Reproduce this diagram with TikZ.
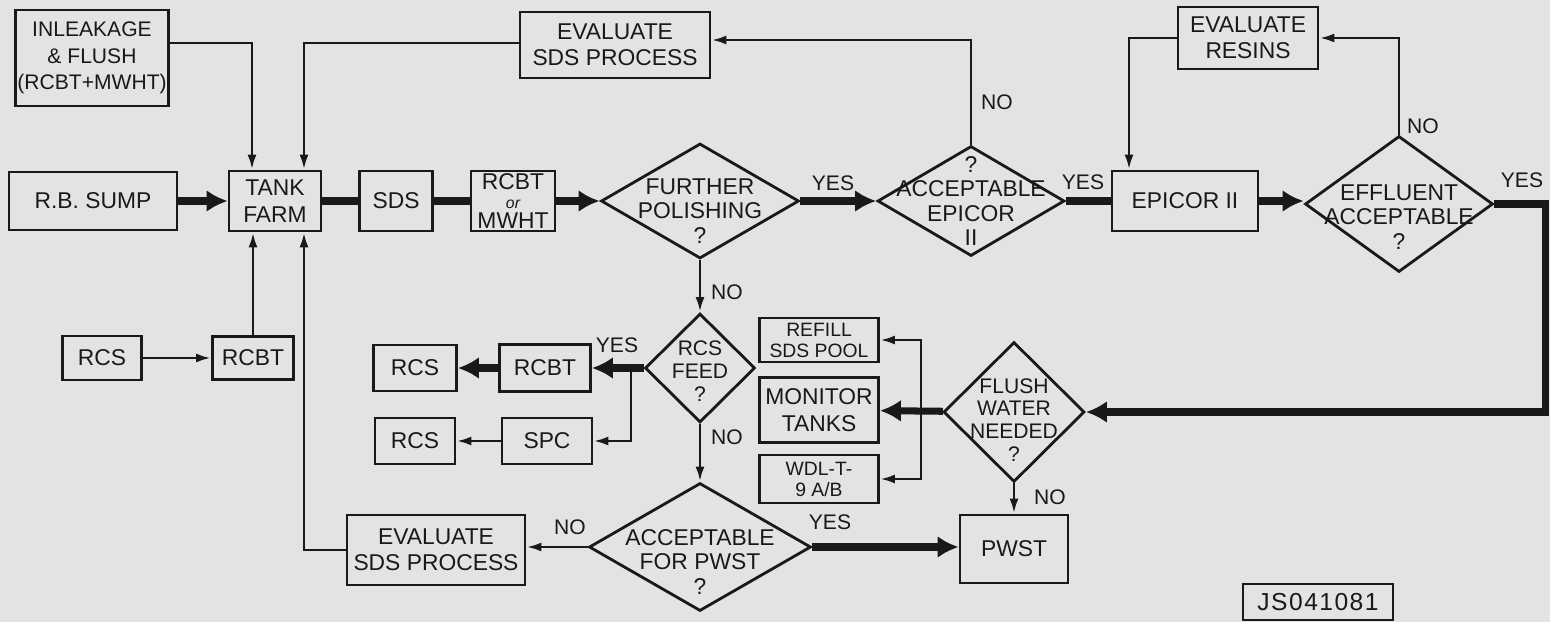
\documentclass[tikz,border=0pt]{standalone}
\usepackage{fontspec}
\setmainfont{Liberation Sans}
\usepackage{tikz}
\usetikzlibrary{shapes.geometric,arrows.meta,calc,positioning}
\tikzset{
        block/.style = {draw, rectangle, align=center, inner sep=1pt,
            line width=1.6pt,
            font=\fontsize{13}{15}\selectfont},
        smallblock/.style = {block, font=\fontsize{11}{12}\selectfont},
        decision/.style = {draw, diamond, inner sep=0pt, line width=1.6pt},
        dtext/.style = {align=center, inner sep=0pt, font=\fontsize{13}{14}\selectfont},
        lbl/.style = {inner sep=1pt, font=\fontsize{12}{14}\selectfont},
        flow/.style = {draw, line width=4pt, -{Latex[length=0.42cm,width=0.44cm]}},
        pipe/.style = {draw, line width=4pt},
        arrow/.style = {draw, line width=1.6pt, -{Latex[length=0.3cm,width=0.18cm]}},
    }

\begin{document}
\begin{tikzpicture}[x=0.02cm, y=-0.02cm, color=black!90]
		\useasboundingbox[fill=black!11] (0,0) rectangle (1550,622);
		\node[block, minimum width=3.06cm, minimum height=1.92cm, font=\fontsize{12}{15}\selectfont] (inleak) at (92,58) {INLEAKAGE\\\& FLUSH\\(RCBT+MWHT)};
		\node[block, minimum width=3.36cm, minimum height=1.16cm] (sump) at (93,201) {R.B. SUMP};
		\node[block, minimum width=1.84cm, minimum height=1.2cm] (tank) at (275,201) {TANK\\FARM};
		\node[block, minimum width=1.46cm, minimum height=1.2cm] (sds) at (396,201) {SDS};
		\node[block, minimum width=1.68cm, minimum height=1.2cm] (rcbtmwht) at (513,201) {RCBT\\[-4pt]{\fontsize{9}{9}\selectfont\itshape or}\\[-4pt]MWHT};
		\node[block, minimum width=3.8cm, minimum height=1.32cm] (evalsds) at (615,45) {EVALUATE\\SDS PROCESS};
		\node[decision, minimum width=3.96cm, minimum height=2.3cm,
			label={[dtext,yshift=-0.2cm]center:FURTHER\\POLISHING\\?}] (further) at (700,201) {};
		\node[decision, minimum width=3.74cm, minimum height=2.2cm,
			label={[dtext]center:?\\ACCEPTABLE\\EPICOR\\II}] (accepicor) at (971,201) {};
		\node[block, minimum width=2.92cm, minimum height=1.2cm] (epicor) at (1185,201) {EPICOR II};
		\node[decision, minimum width=3.76cm, minimum height=2.72cm,
			label={[dtext,yshift=-0.26cm]center:EFFLUENT\\ACCEPTABLE\\?}] (effluent) at (1399,204) {};
		\node[block, minimum width=2.8cm, minimum height=1.24cm] (evalresin) at (1248,38) {EVALUATE\\RESINS};
		\node[block, minimum width=1.58cm, minimum height=0.88cm] (rcsleft) at (102,358) {RCS};
		\node[block, minimum width=1.62cm, minimum height=0.86cm] (rcbtleft) at (253,358) {RCBT};
		\node[decision, minimum width=2.2cm, minimum height=2.18cm,
			label={[dtext,yshift=-0.06cm,font=\fontsize{12}{13}\selectfont]center:RCS\\FEED\\?}] (rcsfeed) at (700,368) {};
		\node[block, minimum width=1.82cm, minimum height=0.94cm] (rcbtmid) at (545,368) {RCBT};
		\node[block, minimum width=1.66cm, minimum height=0.92cm] (rcsupper) at (415,368) {RCS};
		\node[block, minimum width=1.8cm, minimum height=0.92cm] (spc) at (547,441) {SPC};
		\node[block, minimum width=1.6cm, minimum height=0.92cm] (rcslower) at (415,441) {RCS};
		\node[decision, minimum width=4.44cm, minimum height=2.56cm,
			label={[dtext,yshift=-0.3cm]center:ACCEPTABLE\\FOR PWST\\?}] (accpwst) at (700,547) {};
		\node[block, minimum width=3.56cm, minimum height=1.4cm] (evalsdslow) at (436,550) {EVALUATE\\SDS PROCESS};
		\node[smallblock, minimum width=2.38cm, minimum height=0.88cm] (refill) at (819,340) {REFILL\\SDS POOL};
		\node[block, minimum width=2.38cm, minimum height=1.3cm] (monitor) at (819,410) {MONITOR\\TANKS};
		\node[smallblock, minimum width=2.38cm, minimum height=0.96cm] (wdl) at (819,479) {WDL-T-\\9 A/B};
		\node[decision, minimum width=2.82cm, minimum height=2.8cm,
			label={[dtext,yshift=-0.16cm,font=\fontsize{12}{13}\selectfont]center:FLUSH\\WATER\\NEEDED\\?}] (flush) at (1014,412) {};
		\node[block, minimum width=2.16cm, minimum height=1.36cm] (pwst) at (1014,549) {PWST};
		\node[block, minimum width=3cm, minimum height=0.72cm, font=\fontsize{14}{16}\selectfont\addfontfeatures{LetterSpace=6}] (jsno) at (1318,602) {JS041081};
		\node[lbl] (yesa) at (833,183) {YES};
		\node[lbl] (yesb) at (1083,182) {YES};
		\node[lbl] (noa) at (997,102) {NO};
		\node[lbl] (nob) at (1423,126) {NO};
		\node[lbl] (yesc) at (1522,180) {YES};
		\node[lbl] (noc) at (727,292) {NO};
		\node[lbl] (yesd) at (617,345) {YES};
		\node[lbl] (nod) at (727,437) {NO};
		\node[lbl] (noe) at (570,527) {NO};
		\node[lbl] (yese) at (830,522) {YES};
		\node[lbl] (nof) at (1050,497) {NO};
		\coordinate (rturn) at (1545,300);
		\coordinate (flushsplit) at (921,412);
		\coordinate (feedsplit) at (631,368);
		\path[flow] (sump) -- (tank);
		\path[pipe] (tank) -- (sds);
		\path[pipe] (sds) -- (rcbtmwht);
		\path[flow] (rcbtmwht) -- (further);
		\path[flow] (further) -- (accepicor);
		\path[pipe] (accepicor) -- (epicor);
		\path[flow] (epicor.east) -- (epicor.east -| effluent.west);
		\path[flow] (effluent.east) -| (rturn) |- (flush.east);
		\path[flow] (flush) -- (monitor);
		\path[arrow] (flushsplit) |- (refill.east);
		\path[arrow] (flushsplit) |- (wdl.east);
		\path[arrow] (flush) -- (pwst);
		\path[arrow] ([yshift=0.3cm]inleak.east) -| ([xshift=-0.46cm]tank.north);
		\path[arrow] ([yshift=0.04cm]evalsds.west) -| ([xshift=0.58cm]tank.north);
		\path[arrow] (accepicor.north) |- ([yshift=0.1cm]evalsds.east);
		\path[arrow] (effluent.north) |- (evalresin.east);
		\path[arrow] (evalresin.west) -| ([xshift=-1.12cm]epicor.north);
		\path[arrow] (further) -- (rcsfeed);
		\path[flow] (rcsfeed) -- (rcbtmid);
		\path[arrow] (feedsplit) |- (spc.east);
		\path[flow] (rcbtmid) -- (rcsupper);
		\path[arrow] (spc) -- (rcslower);
		\path[arrow] (rcsfeed) -- (accpwst);
		\path[arrow] (accpwst.west) -- (accpwst.west -| evalsdslow.east);
		\path[flow] (accpwst.east) -- (accpwst.east -| pwst.west);
		\path[arrow] (evalsdslow.west) -| ([xshift=0.58cm]tank.south);
		\path[arrow] (rcsleft) -- (rcbtleft);
		\path[arrow] (rcbtleft) -- (rcbtleft |- tank.south);
\end{tikzpicture}
\end{document}
